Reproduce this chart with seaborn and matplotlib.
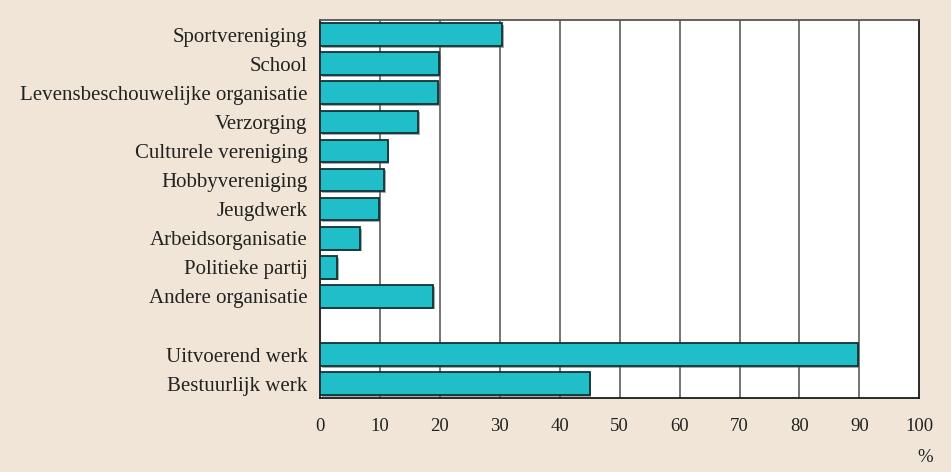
import numpy as np
import pandas as pd
import matplotlib
matplotlib.use("Agg")
import matplotlib.pyplot as plt
import matplotlib.patheffects as pe
import seaborn as sns

# Data
org_categories = ["Sportvereniging", "School", "Levensbeschouwelijke organisatie",
                  "Verzorging", "Culturele vereniging", "Hobbyvereniging",
                  "Jeugdwerk", "Arbeidsorganisatie", "Politieke partij",
                  "Andere organisatie"]
org_values = [30.4, 19.9, 19.7, 16.4, 11.3, 10.7, 9.8, 6.7, 2.9, 18.9]
work_categories = ["Uitvoerend werk", "Bestuurlijk werk"]
work_values = [89.7, 45.0]
x_ticks = [0, 10, 20, 30, 40, 50, 60, 70, 80, 90, 100]
x_unit = "%"

BG = "#F0E5D6"
BAR = "#20BEC8"

sns.set_style("white")
plt.rcParams["font.family"] = ["Liberation Serif", "DejaVu Serif"]

df = pd.DataFrame({"cat": org_categories + work_categories,
                   "val": org_values + work_values})
order = org_categories + [" "] + work_categories

fig = plt.figure(figsize=(9.51, 4.72), dpi=100, facecolor=BG)
ax = fig.add_axes([320 / 951, 1 - 398.3 / 472, (919.3 - 320) / 951, (398.3 - 20) / 472])
ax.set_facecolor("white")

sns.barplot(data=df, x="val", y="cat", order=order, orient="h", ax=ax,
            color=BAR, saturation=1, width=0.78, edgecolor="#0f3335",
            linewidth=1.3, errorbar=None, zorder=3)
for p in ax.patches:
    p.set_path_effects([pe.SimplePatchShadow(offset=(1.2, -1.2), shadow_rgbFace="#555555", alpha=0.5),
                        pe.Normal()])

ax.set_xlim(0, 100)
ax.set_xticks(x_ticks)
ax.set_xticklabels([str(t) for t in x_ticks])
ax.set_xlabel("")
ax.set_ylabel("")
for t in x_ticks[1:-1]:
    ax.axvline(t, color="#5e5e5e", lw=1.2, zorder=1)
for s in ax.spines.values():
    s.set_visible(True)
    s.set_color("#1a1a1a")
    s.set_linewidth(1.3)
ax.spines["top"].set_color("#555555")
ax.tick_params(axis="x", length=0, pad=14, labelsize=13.5, colors="#222222")
ax.tick_params(axis="y", length=0, pad=9, labelsize=15, colors="#222222")

fig.text(933 / 951, 1 - 457 / 472, x_unit, ha="right", va="center",
         fontsize=13.5, color="#222222")

fig.savefig("out.png", dpi=100, facecolor=BG)
